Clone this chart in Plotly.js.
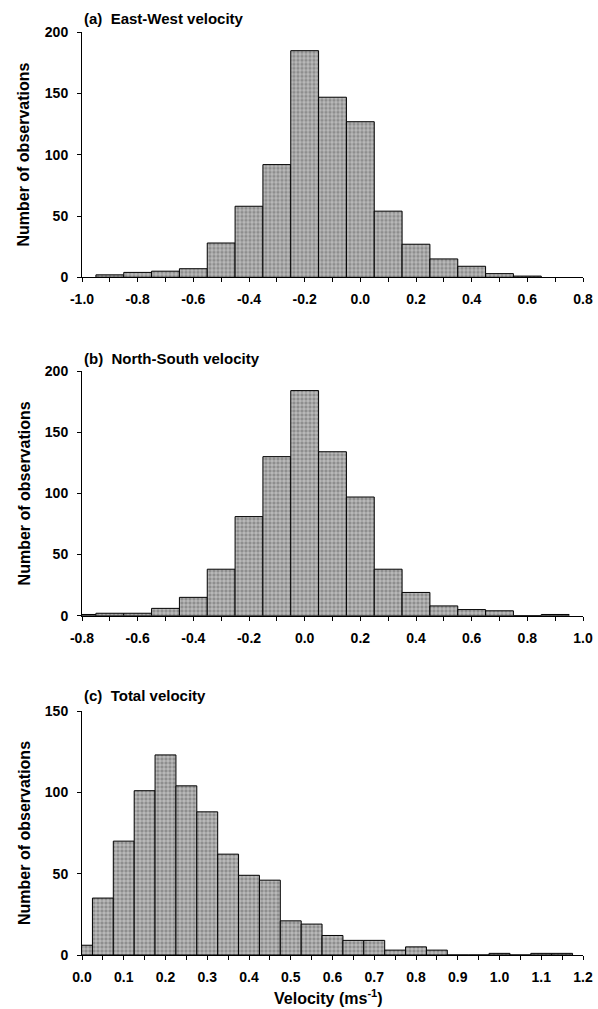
<!DOCTYPE html>
<html><head><meta charset="utf-8">
<script src="https://cdn.plot.ly/plotly-3.0.1.min.js"></script>
<style>html,body{margin:0;padding:0;background:#fff}</style>
</head><body><div id="chart" style="width:598px;height:1009px"></div>
<script>
// (a) East-West velocity: bin centres (m/s) and counts
const ewCenters = [-0.9,-0.8,-0.7,-0.6,-0.5,-0.4,-0.3,-0.2,-0.1,0.0,0.1,0.2,0.3,0.4,0.5,0.6];
const ewCounts  = [2,4,5,7,28,58,92,185,147,127,54,27,15,9,3,1];
// (b) North-South velocity
const nsCenters = [-0.8,-0.7,-0.6,-0.5,-0.4,-0.3,-0.2,-0.1,0.0,0.1,0.2,0.3,0.4,0.5,0.6,0.7,0.8,0.9];
const nsCounts  = [1,2,2,6,15,38,81,130,184,134,97,38,19,8,5,4,0,1];
// (c) Total velocity
const totCenters = [0.0,0.05,0.1,0.15,0.2,0.25,0.3,0.35,0.4,0.45,0.5,0.55,0.6,0.65,0.7,0.75,0.8,0.85,0.9,0.95,1.0,1.05,1.1,1.15];
const totCounts  = [6,35,70,101,123,104,88,62,49,46,21,19,12,9,9,3,5,3,0,0,1,0,1,1];

// labelled ticks and unlabelled (minor) ticks
const ewTickVals = [-1.0,-0.8,-0.6,-0.4,-0.2,0.0,0.2,0.4,0.6,0.8];
const ewTickText = ['-1.0','-0.8','-0.6','-0.4','-0.2','0.0','0.2','0.4','0.6','0.8'];
const ewMinorVals = [-0.9,-0.7,-0.5,-0.3,-0.1,0.1,0.3,0.5,0.7];
const nsTickVals = [-0.8,-0.6,-0.4,-0.2,0.0,0.2,0.4,0.6,0.8,1.0];
const nsTickText = ['-0.8','-0.6','-0.4','-0.2','0.0','0.2','0.4','0.6','0.8','1.0'];
const nsMinorVals = [-0.7,-0.5,-0.3,-0.1,0.1,0.3,0.5,0.7,0.9];
const totTickVals = [0,0.1,0.2,0.3,0.4,0.5,0.6,0.7,0.8,0.9,1.0,1.1,1.2];
const totTickText = ['0.0','0.1','0.2','0.3','0.4','0.5','0.6','0.7','0.8','0.9','1.0','1.1','1.2'];
const totMinorVals = [0.05,0.15,0.25,0.35,0.45,0.55,0.65,0.75,0.85,0.95,1.05,1.15];
const countTicks = [0,50,100,150,200];

const panelTitles = ['(a)\u00A0\u00A0East-West velocity','(b)\u00A0\u00A0North-South velocity','(c)\u00A0\u00A0Total velocity'];
const yTitle = 'Number of observations';
const xTitle = 'Velocity (ms<sup>-1</sup>)';

const FONT = '"Liberation Sans", Arial, Helvetica, sans-serif';
const barMarker = {
  color: '#8e8e8e',
  line: {color: '#000', width: 1},
  pattern: {shape: '+', fgcolor: '#e6e6e6', bgcolor: '#8e8e8e', size: 4, solidity: 0.25}
};
function bars(x, y, w, xa, ya) {
  return {type: 'bar', x: x, y: y, width: w, xaxis: xa, yaxis: ya,
          marker: barMarker, hoverinfo: 'skip', showlegend: false};
}
const data = [
  bars(ewCenters, ewCounts, 0.1, 'x', 'y'),
  bars(nsCenters, nsCounts, 0.1, 'x2', 'y2'),
  bars(totCenters, totCounts, 0.05, 'x3', 'y3')
];

const tickFont = {family: FONT, size: 14, color: '#000', weight: 'bold'};
function xax(range, vals, text, minorVals, anchor) {
  return {range: range, tickmode: 'array', tickvals: vals, ticktext: text,
          ticks: 'outside', ticklen: 4, tickwidth: 1, tickcolor: '#000',
          minor: {tickmode: 'array', tickvals: minorVals, ticks: 'outside', ticklen: 4,
                  tickwidth: 1, tickcolor: '#000', showgrid: false},
          showline: true, linecolor: '#000', linewidth: 1, showgrid: false,
          zeroline: false, anchor: anchor, tickfont: tickFont, ticklabelstandoff: 5,
          domain: [0, 1], fixedrange: true};
}
function yax(range, domain, anchor) {
  return {range: range, domain: domain, tickmode: 'array', tickvals: countTicks,
          ticks: 'outside', ticklen: 4, tickwidth: 1, tickcolor: '#000',
          showline: true, linecolor: '#000', linewidth: 1, showgrid: false,
          zeroline: false, anchor: anchor, tickfont: tickFont, ticklabelstandoff: 6,
          fixedrange: true};
}
const H = 1009;
const f = p => 1 - p / H;

const annFont = {family: FONT, size: 15, color: '#000', weight: 'bold'};
const axTitleFont = {family: FONT, size: 16, color: '#000', weight: 'bold'};
const annotations = [
  {text: panelTitles[0], x: 0, y: f(18), xanchor: 'left', yanchor: 'middle'},
  {text: panelTitles[1], x: 0, y: f(358), xanchor: 'left', yanchor: 'middle'},
  {text: panelTitles[2], x: 0, y: f(695), xanchor: 'left', yanchor: 'middle'}
].map(a => Object.assign(a, {xref: 'paper', yref: 'paper', showarrow: false, font: annFont}));
[[154.6],[493.4],[833]].forEach(([py]) => {
  annotations.push({text: yTitle, xref: 'paper', yref: 'paper', x: (24 - 82) / 501, y: f(py),
    xanchor: 'center', yanchor: 'middle', textangle: -90, showarrow: false, font: axTitleFont});
});
annotations.push({text: xTitle, xref: 'paper', yref: 'paper', x: (328 - 82) / 501, y: f(997),
  xanchor: 'center', yanchor: 'middle', showarrow: false, font: axTitleFont});

const layout = {
  width: 598, height: 1009,
  margin: {l: 82, r: 15, t: 0, b: 0},
  paper_bgcolor: '#fff', plot_bgcolor: '#fff',
  font: {family: FONT, color: '#000', size: 14, weight: 'bold'},
  bargap: 0,
  xaxis: xax([-1.0, 0.8], ewTickVals, ewTickText, ewMinorVals, 'y'),
  xaxis2: xax([-0.8, 1.0], nsTickVals, nsTickText, nsMinorVals, 'y2'),
  xaxis3: xax([0, 1.2], totTickVals, totTickText, totMinorVals, 'y3'),
  yaxis: yax([0, 200], [f(277.3), f(32.3)], 'x'),
  yaxis2: yax([0, 200], [f(615.7), f(371)], 'x2'),
  yaxis3: yax([0, 150], [f(955), f(711)], 'x3'),
  annotations: annotations
};
Plotly.newPlot('chart', data, layout, {staticPlot: true, displayModeBar: false});
</script></body></html>
